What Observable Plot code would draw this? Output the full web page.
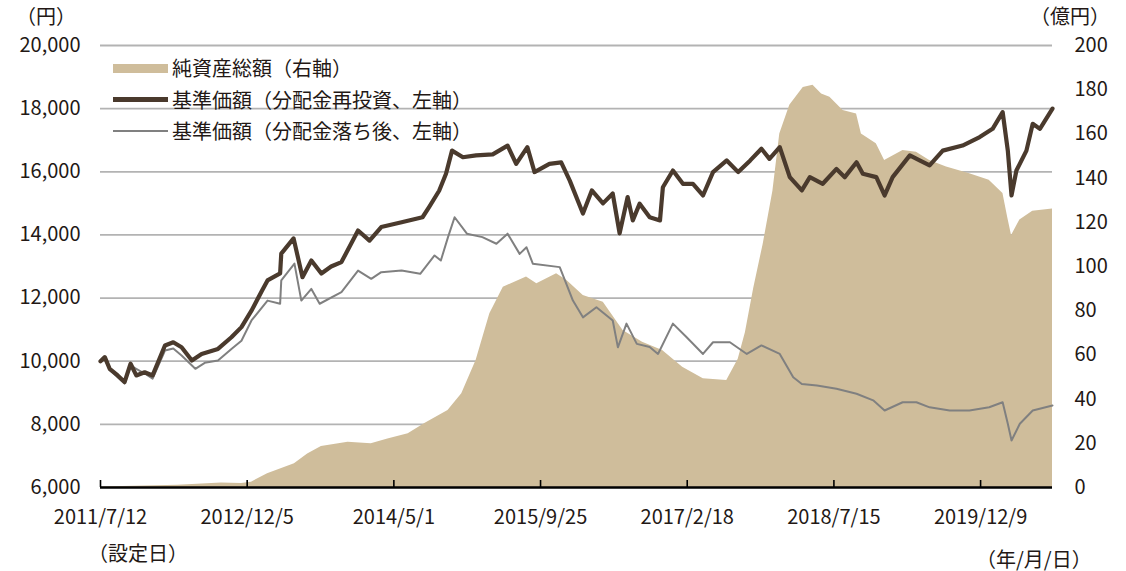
<!DOCTYPE html>
<html><head><meta charset="utf-8">
<script src="https://cdn.jsdelivr.net/npm/d3@7"></script>
<script src="https://cdn.jsdelivr.net/npm/@observablehq/plot@0.6"></script>
<style>
body{margin:0;background:#fff;}
#wrap{position:relative;width:1126px;height:571px;font-family:"Noto Sans CJK JP","Noto Sans",sans-serif;color:#231815;}
.lbl{position:absolute;font-size:20px;line-height:20px;white-space:nowrap;}
.sw{position:absolute;}
</style></head><body>
<div id="wrap"></div>
<script>
// 基準価額（分配金再投資、左軸）
const reinvDates = ["2011-07-12","2011-07-27","2011-08-13","2011-09-10","2011-10-04","2011-10-25","2011-11-14","2011-12-13","2012-01-10","2012-02-22","2012-03-22","2012-04-20","2012-05-26","2012-06-29","2012-08-25","2012-10-11","2012-11-15","2012-12-20","2013-01-26","2013-02-14","2013-03-30","2013-04-03","2013-05-16","2013-06-16","2013-07-17","2013-08-21","2013-09-24","2013-10-30","2013-12-27","2014-02-05","2014-03-18","2014-05-28","2014-08-09","2014-09-02","2014-10-06","2014-10-30","2014-11-20","2014-12-28","2015-02-12","2015-04-11","2015-06-02","2015-07-02","2015-08-10","2015-09-04","2015-10-26","2015-12-06","2016-01-05","2016-02-20","2016-03-22","2016-04-30","2016-06-03","2016-06-27","2016-07-25","2016-08-12","2016-09-05","2016-10-10","2016-11-15","2016-11-25","2016-12-30","2017-02-03","2017-03-10","2017-04-14","2017-05-19","2017-07-06","2017-08-15","2017-09-26","2017-11-04","2017-12-02","2018-01-07","2018-02-11","2018-03-25","2018-04-22","2018-06-06","2018-07-24","2018-08-22","2018-10-02","2018-10-24","2018-12-10","2019-01-08","2019-02-05","2019-04-06","2019-05-10","2019-06-14","2019-07-30","2019-10-07","2019-12-06","2020-01-20","2020-02-24","2020-03-13","2020-03-26","2020-04-12","2020-05-17","2020-06-08","2020-07-03","2020-08-16"];
const reinvValues = [10000,10130,9760,9550,9340,9920,9550,9650,9550,10500,10600,10440,10020,10230,10390,10760,11080,11600,12240,12560,12780,13410,13890,12660,13190,12780,13000,13140,14140,13820,14250,14400,14560,14900,15400,15940,16670,16460,16520,16550,16830,16250,16780,15990,16250,16300,15720,14680,15410,15000,15310,14050,15200,14460,14990,14560,14460,15510,16040,15620,15620,15250,15990,16360,15990,16360,16730,16410,16780,15830,15410,15830,15620,16090,15830,16300,15940,15830,15250,15830,16520,16360,16200,16670,16830,17100,17360,17890,16670,15250,16040,16670,17520,17360,18000];

// 基準価額（分配金落ち後、左軸）
const distDates = ["2011-07-12","2011-07-27","2011-08-13","2011-10-04","2011-10-25","2011-12-13","2012-01-10","2012-02-22","2012-03-22","2012-04-20","2012-06-07","2012-07-10","2012-08-25","2012-10-11","2012-11-15","2012-12-20","2013-02-14","2013-03-30","2013-04-03","2013-05-19","2013-06-12","2013-07-17","2013-08-15","2013-10-30","2013-12-27","2014-02-11","2014-03-18","2014-05-28","2014-08-01","2014-09-20","2014-10-12","2014-11-06","2014-11-29","2015-01-11","2015-03-06","2015-04-24","2015-06-02","2015-07-14","2015-08-07","2015-08-29","2015-12-01","2016-01-16","2016-02-20","2016-04-07","2016-06-03","2016-06-21","2016-07-21","2016-08-26","2016-10-10","2016-11-08","2016-12-30","2017-02-16","2017-04-14","2017-05-19","2017-07-17","2017-09-14","2017-11-04","2018-01-07","2018-02-23","2018-03-25","2018-05-17","2018-07-24","2018-10-02","2018-11-29","2019-01-08","2019-03-12","2019-04-29","2019-06-14","2019-08-23","2019-10-31","2020-01-08","2020-02-24","2020-03-13","2020-03-26","2020-04-24","2020-06-08","2020-08-16"];
const distValues = [10000,10080,9720,9290,9860,9610,9450,10340,10400,10180,9760,9950,10020,10390,10650,11290,11920,11820,12560,13090,11920,12290,11820,12190,12870,12610,12820,12870,12770,13350,13190,13930,14560,14040,13930,13720,14040,13400,13610,13090,12980,11920,11390,11710,11290,10440,11190,10550,10450,10230,11190,10760,10230,10600,10600,10230,10500,10230,9490,9280,9230,9130,8970,8760,8440,8700,8700,8540,8440,8440,8540,8700,8020,7490,8020,8440,8600];

// 純資産総額（右軸、億円）
const navDates = ["2011-07-12","2012-04-07","2012-09-06","2012-11-15","2012-12-20","2013-02-14","2013-05-19","2013-07-04","2013-08-21","2013-11-22","2014-02-11","2014-04-10","2014-06-20","2014-08-17","2014-11-06","2014-12-24","2015-02-12","2015-04-01","2015-05-18","2015-08-07","2015-09-12","2015-11-20","2015-12-26","2016-02-21","2016-05-01","2016-07-09","2016-09-15","2016-11-24","2017-02-02","2017-04-15","2017-07-06","2017-08-15","2017-09-09","2017-10-08","2017-11-10","2017-12-14","2018-01-07","2018-02-11","2018-03-30","2018-05-03","2018-06-02","2018-07-01","2018-08-16","2018-10-02","2018-10-19","2018-12-10","2019-01-08","2019-03-13","2019-04-29","2019-06-14","2019-08-12","2019-11-01","2020-01-08","2020-02-25","2020-03-13","2020-03-26","2020-04-24","2020-06-08","2020-08-16"];
const navValues = [0.2,1,2,1.8,2.4,6.2,10.7,15.2,18.5,20.5,19.8,22,24.3,29,34.8,42.4,57.5,78.6,90.6,95.2,92.2,96.7,93.7,86.9,83.8,71,65.7,62,54.4,49.2,48.4,58,70,90,110,134,160,173,181,182,178,176.6,170.6,169,160,155.5,148,152.5,151.7,148,145,142,139,133,122,114,121,125,126];

const leftTicks = [6000,8000,10000,12000,14000,16000,18000,20000];
const rightTicks = [0,20,40,60,80,100,120,140,160,180,200];
const xTickDates = ["2011-07-12","2012-12-05","2014-05-01","2015-09-25","2017-02-18","2018-07-15","2019-12-09"];
const xStart = "2011-07-12", xEnd = "2020-08-16";

const parse = s => new Date(s + "T00:00:00Z");
const reinv = reinvDates.map((d,i)=>({date:parse(d), value:reinvValues[i]}));
const dist = distDates.map((d,i)=>({date:parse(d), value:distValues[i]}));
const nav = navDates.map((d,i)=>({date:parse(d), value:navValues[i]}));
const tickDates = xTickDates.map(parse);

// right axis (0–200) mapped onto left axis (6000–20000)
const lMin = leftTicks[0], lMax = leftTicks[leftTicks.length-1];
const rMin = rightTicks[0], rMax = rightTicks[rightTicks.length-1];
const toLeft = v => lMin + (v - rMin) * (lMax - lMin) / (rMax - rMin);
const toRight = v => rMin + (v - lMin) * (rMax - rMin) / (lMax - lMin);

const W = 1126, H = 571, mT = 45, mB = 84, mL = 100, mR = 74;
const tan = "#cfbd9b", brown = "#4a3a2d", gray = "#808080", grid = "#b3b3b3";
const fmtDate = d => `${d.getUTCFullYear()}/${d.getUTCMonth()+1}/${d.getUTCDate()}`;

const chart = Plot.plot({
  width: W, height: H,
  marginTop: mT, marginBottom: mB, marginLeft: mL, marginRight: mR,
  style: {fontFamily: '"Noto Sans CJK JP","Noto Sans",sans-serif', fontSize: "20px", color: "#231815", background: "transparent"},
  x: {type: "utc", domain: [parse(xStart), parse(xEnd)]},
  y: {domain: [lMin, lMax]},
  marks: [
    Plot.ruleY(leftTicks.filter(t => t > lMin), {stroke: grid, strokeWidth: 1.8}),
    Plot.areaY(nav, {x: "date", y1: lMin, y2: d => toLeft(d.value), fill: tan}),
    Plot.lineY(dist, {x: "date", y: "value", stroke: gray, strokeWidth: 2}),
    Plot.lineY(reinv, {x: "date", y: "value", stroke: brown, strokeWidth: 4.2, strokeLinejoin: "round"}),
    Plot.ruleY([lMin], {stroke: "#000", strokeWidth: 2.5}),
    Plot.ruleX(tickDates, {stroke: "#000", strokeWidth: 1.6, insetTop: H - mT - mB - 7}),
    Plot.axisY({anchor: "left", ticks: leftTicks, tickSize: 0, tickPadding: 20, tickFormat: d3.format(","), label: null, fontSize: 20}),
    Plot.axisY({anchor: "right", ticks: rightTicks.map(toLeft), tickSize: 0, tickPadding: 22, tickFormat: d => String(Math.round(toRight(d))), label: null, fontSize: 20}),
    Plot.axisX({ticks: tickDates, tickSize: 0, tickPadding: 22, tickFormat: fmtDate, label: null, fontSize: 20})
  ]
});

const wrap = document.getElementById("wrap");
chart.style.position = "absolute"; chart.style.left = "0"; chart.style.top = "0";
wrap.appendChild(chart);

function addLabel(text, left, top, extra) {
  const el = document.createElement("div");
  el.className = "lbl"; el.textContent = text;
  el.style.left = left + "px"; el.style.top = top + "px";
  if (extra) Object.assign(el.style, extra);
  wrap.appendChild(el);
  return el;
}
function addSwatch(left, top, w, h, color) {
  const el = document.createElement("div");
  el.className = "sw";
  Object.assign(el.style, {left: left+"px", top: top+"px", width: w+"px", height: h+"px", background: color});
  wrap.appendChild(el);
}
addLabel("（円）", 16, 6);
addLabel("（億円）", 1030, 6);
addLabel("（設定日）", 88, 543);
addLabel("（年/月/日）", 976, 549);

const legendItems = ["純資産総額（右軸）", "基準価額（分配金再投資、左軸）", "基準価額（分配金落ち後、左軸）"];
addSwatch(113, 64, 55, 9, tan);
addLabel(legendItems[0], 172, 58);
addSwatch(113, 97, 55, 4.5, brown);
addLabel(legendItems[1], 172, 90);
addSwatch(113, 130, 55, 2, gray);
addLabel(legendItems[2], 172, 121);
</script>
</body></html>
